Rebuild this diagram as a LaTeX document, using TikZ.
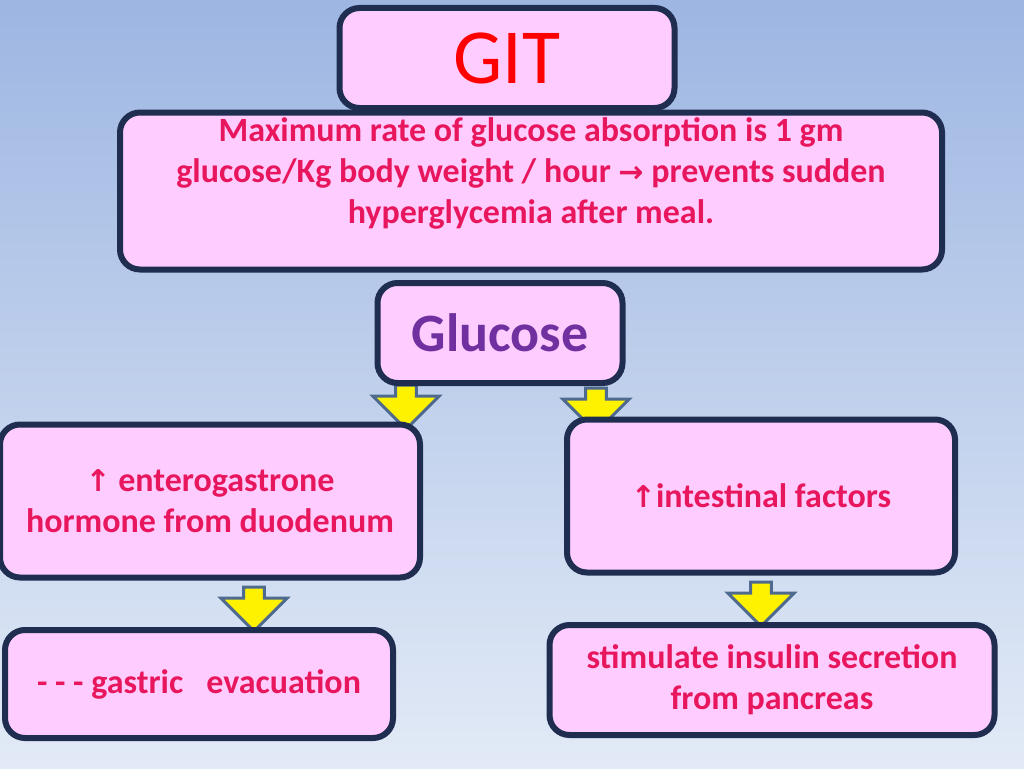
\documentclass[tikz,border=0pt]{standalone}
\usepackage{fontspec}
\setmainfont{Carlito}
\usetikzlibrary{shapes.arrows, positioning}
\definecolor{boxfill}{HTML}{FFCCFF}
\definecolor{boxline}{HTML}{1F2D50}
\definecolor{txtpink}{HTML}{E8175D}
\definecolor{txtpurple}{HTML}{7030A0}
\definecolor{bgtop}{HTML}{9DB6E2}
\definecolor{bgbot}{HTML}{E2EAF6}
\definecolor{arrline}{HTML}{4F6A8F}
\newcommand{\uparr}{{\fontspec{DejaVu Sans}\fontsize{30}{41}\selectfont↑}}
\newcommand{\rightarr}{{\fontspec{DejaVu Sans}\fontsize{30}{41}\selectfont→}}
\tikzset{
  pinkbox/.style={draw=boxline, line width=6pt, fill=boxfill, rounded corners=20pt,
    align=center, text=txtpink, font=\fontsize{34}{41}\selectfont\bfseries},
  downarrow/.style={single arrow, draw=arrline, line width=3pt, fill=yellow,
    shape border rotate=270, minimum height=44pt, minimum width=66pt,
    single arrow head extend=14pt, inner sep=5pt}
}
\begin{document}
\begin{tikzpicture}[x=1pt,y=-1pt]
\shade[top color=bgtop, bottom color=bgbot] (0,0) rectangle (1024,768);
\useasboundingbox (0,0) rectangle (1024,768);

% arrows under the boxes
\node[downarrow] (a1) at (406,402) {};
\node[downarrow] (a2) at (596,405) {};
\node[downarrow] (a3) at (254,604) {};
\node[downarrow] (a4) at (761,599) {};

\node[pinkbox, minimum width=822pt, minimum height=157pt] (rate) at (531,191)
  {Maximum rate of glucose absorption is 1 gm\\glucose/Kg body weight / hour \rightarr{} prevents sudden\\hyperglycemia after meal.\\[-12pt] \strut};
\node[pinkbox, minimum width=335pt, minimum height=100pt, text=red,
  font=\fontsize{78}{78}\selectfont] (git) at (507,58) {GIT};
\node[pinkbox, minimum width=245pt, minimum height=100pt, text=txtpurple,
  font=\fontsize{54}{54}\selectfont\bfseries] (glucose) at (500,333) {Glucose};
\node[pinkbox, minimum width=420pt, minimum height=153pt] (entero) at (210,501)
  {\uparr{} enterogastrone\\hormone from duodenum};
\node[pinkbox, minimum width=388pt, minimum height=153pt] (intest) at (761,496)
  {\uparr intestinal factors};
\node[pinkbox, minimum width=388pt, minimum height=108pt] (gastric) at (199,684)
  {- - - gastric~~ evacuation};
\node[pinkbox, minimum width=445pt, minimum height=110pt] (insulin) at (772,680)
  {stimulate insulin secretion\\from pancreas};
\end{tikzpicture}
\end{document}
